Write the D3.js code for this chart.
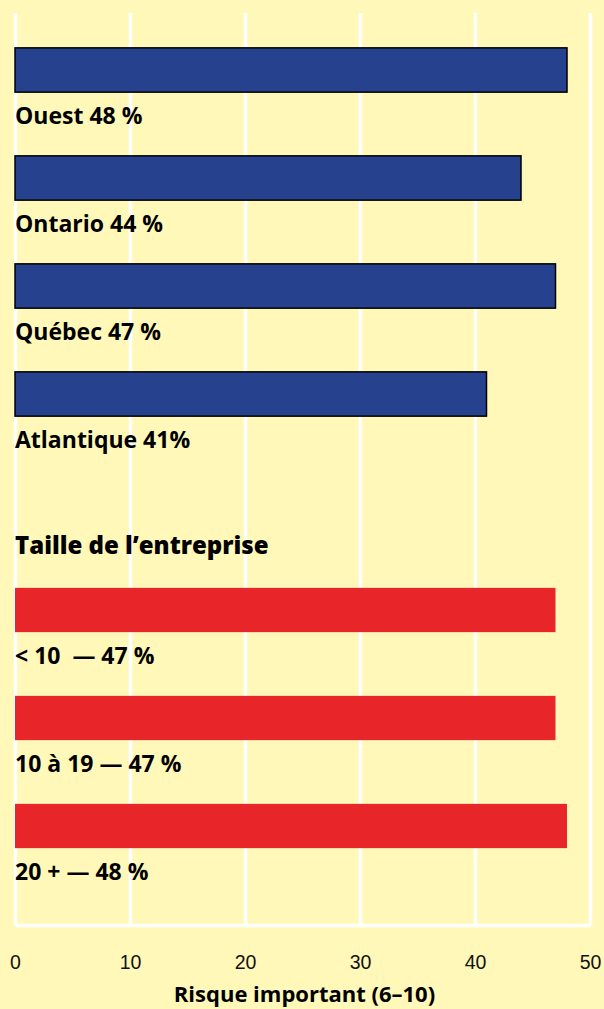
<!DOCTYPE html>
<html>
<head>
<meta charset="utf-8">
<script src="https://cdn.jsdelivr.net/npm/d3@7"></script>
<style>
  body { margin: 0; background: #fff8b8; }
  svg { display: block; font-family: "Open Sans", sans-serif; }
</style>
</head>
<body>
<svg class="chart"></svg>
<script>
var width = 604,
    height = 1009;

// regions (blue)
var regions = ["Ouest", "Ontario", "Québec", "Atlantique"];
var regionValues = [48, 44, 47, 41];
var regionLabels = ["Ouest 48 %", "Ontario 44 %", "Québec 47 %", "Atlantique 41%"];

// company size (red)
var sizes = ["<10", "10-19", "20+"];
var sizeValues = [47, 47, 48];
var sizeLabels = ["< 10  \u2014 47 %", "10 à 19 \u2014 47 %", "20 + \u2014 48 %"];

var sizeTitle = "Taille de l\u2019entreprise";
var xTicks = [0, 10, 20, 30, 40, 50];
var xTitle = "Risque important (6\u201310)";

var rows = regions.concat(["gap"], sizes);

var x = d3.scaleLinear()
    .domain([0, 50])
    .range([15, 590]);

var y = d3.scaleBand()
    .domain(rows)
    .range([16, 880])
    .paddingInner(0.59)
    .paddingOuter(0.295);

var chart = d3.select(".chart")
    .attr("width", width)
    .attr("height", height);

chart.append("rect")
    .attr("width", width)
    .attr("height", height)
    .attr("fill", "#fff8b8");

// grid + axis
var gridTop = 13, gridBottom = 925;
var axis = chart.append("g")
    .attr("transform", "translate(0," + gridBottom + ")")
    .call(d3.axisBottom(x)
      .tickValues(xTicks)
      .tickSize(-(gridBottom - gridTop))
      .tickSizeOuter(0)
      .tickPadding(30));

axis.selectAll("line, path")
    .attr("stroke", "#fff")
    .attr("stroke-width", 3.5);
axis.selectAll("text")
    .attr("fill", "#111")
    .style("font-size", "19.5px");

var data = regions.map(function(d, i) {
  return {key: d, value: regionValues[i], label: regionLabels[i], color: "#26418e", stroke: "#000"};
}).concat(sizes.map(function(d, i) {
  return {key: d, value: sizeValues[i], label: sizeLabels[i], color: "#e8262a", stroke: "none"};
}));

var bar = chart.selectAll("g.bar")
    .data(data)
  .enter().append("g")
    .attr("class", "bar")
    .attr("transform", function(d) { return "translate(0," + y(d.key) + ")"; });

bar.append("rect")
    .attr("x", x(0))
    .attr("width", function(d) { return x(d.value) - x(0); })
    .attr("height", y.bandwidth())
    .attr("fill", function(d) { return d.color; })
    .attr("stroke", function(d) { return d.stroke; })
    .attr("stroke-width", 1.5);

bar.append("text")
    .attr("x", x(0))
    .attr("y", y.bandwidth() + 32)
    .attr("fill", "#000")
    .style("font-size", "23px")
    .style("font-weight", "bold")
    .style("white-space", "pre")
    .text(function(d) { return d.label; });

chart.append("text")
    .attr("x", x(0))
    .attr("y", y("gap") + y.bandwidth() + 30)
    .style("font-size", "24px")
    .style("font-weight", "800")
    .text(sizeTitle);

chart.append("text")
    .attr("x", (x(0) + x(50)) / 2 + 2)
    .attr("y", 1002)
    .attr("text-anchor", "middle")
    .style("font-size", "22px")
    .style("font-weight", "bold")
    .text(xTitle);
</script>
</body>
</html>
